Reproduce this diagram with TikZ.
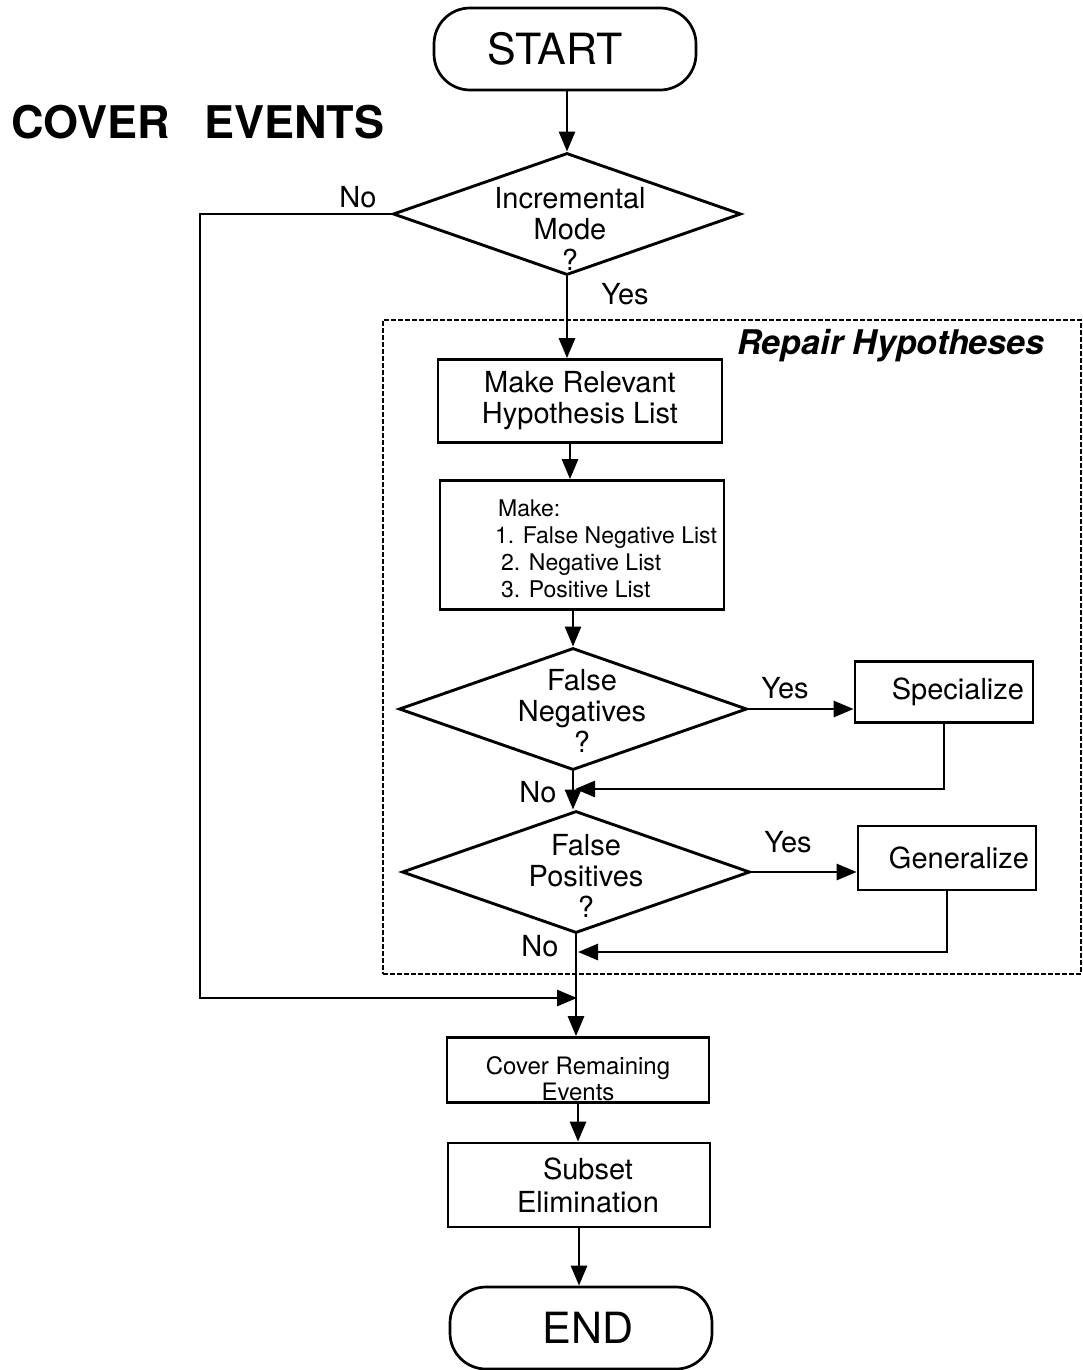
\documentclass[tikz,border=0pt]{standalone}
\usepackage{fontspec}
\setmainfont{TeX Gyre Heros}
\usetikzlibrary{shapes.geometric,arrows.meta}
\begin{document}
\begin{tikzpicture}[x=1pt,y=-1pt,
  every node/.style={inner sep=0pt},
  line/.style={line width=2.7pt},
  arr/.style={line width=2.7pt,-{Triangle[length=20pt,width=16pt]}},
  box/.style={draw,line width=2.7pt,rectangle,align=center},
  term/.style={draw,line width=2.7pt,rounded corners=36pt,minimum width=262pt,minimum height=82pt,font=\fontsize{43}{45}\selectfont},
  dec/.style={draw,line width=2.9pt,diamond,minimum width=348pt,minimum height=122pt},
  txt/.style={font=\fontsize{29}{31}\selectfont,align=center},
  small/.style={font=\fontsize{23}{27}\selectfont},
  lab/.style={font=\fontsize{29}{31}\selectfont},
]
\useasboundingbox (0,0) rectangle (1083,1370);

% dashed group
\node[draw,line width=1.8pt,dash pattern=on 5pt off 2pt,minimum width=698pt,minimum height=654pt] (rh) at (732,647) {};
\node[font=\bfseries\itshape\fontsize{34}{36}\selectfont] (rhT) at (891,346) {Repair Hypotheses};

\node[term] (start) at (565,49) {START\hspace*{20pt}};
\node[font=\bfseries\fontsize{45}{47}\selectfont] (title) at (198,122) {COVER\hspace{35pt}EVENTS};

\node[dec] (inc) at (567,214) {};
\node[txt] (incT) at (570,229) {Incremental\\Mode\\?};

\node[box,txt,minimum width=284pt,minimum height=83pt] (mr) at (580,401) {Make Relevant\\Hypothesis List};

\node[box,minimum width=284pt,minimum height=129pt] (ml) at (582,545) {};
\node[small,align=left,anchor=west] (mlT) at (495,549) {\hspace*{3pt}Make:\\1. False Negative List\\\hspace*{6pt}2. Negative List\\\hspace*{6pt}3. Positive List};

\node[dec] (fn) at (573,709) {};
\node[txt] (fnT) at (582,711) {False\\Negatives\\?};
\node[box,txt,minimum width=178pt,minimum height=61pt,text width=160pt,align=right,inner xsep=9pt] (sp) at (944,692) {Specialize};

\node[dec] (fp) at (576,872) {};
\node[txt] (fpT) at (586,876) {False\\Positives\\?};
\node[box,txt,minimum width=178pt,minimum height=64pt,text width=164pt,align=right,inner xsep=7pt] (ge) at (947,858) {Generalize};

\node[box,minimum width=262pt,minimum height=65pt] (cr) at (578,1070) {};
\node[align=center,font=\fontsize{24}{26}\selectfont] (crT) at (578,1079) {Cover Remaining\\Events};

\node[box,minimum width=262pt,minimum height=84pt,font=\fontsize{29}{33}\selectfont] (se) at (579,1185) {\hspace*{18pt}Subset\\\hspace*{18pt}Elimination};

\node[term] (end) at (581,1328) {\hspace*{14pt}END};

% labels
\node[lab] (no1) at (358,197) {No};
\node[lab] (yes1) at (625,294) {Yes};
\node[lab] (yes2) at (785,688) {Yes};
\node[lab] (no2) at (538,792) {No};
\node[lab] (yes3) at (788,842) {Yes};
\node[lab] (no3) at (540,946) {No};

% coordinates
\coordinate (m1) at (575,789);
\coordinate (m2) at (578,952);
\coordinate (c1) at (200,998);
\coordinate (j) at (577,998);

% connectors
\draw[arr] (inc.north |- start.south) -- (inc.north);
\draw[arr] (inc.south) -- (inc.south |- mr.north);
\draw[arr] ([xshift=-10pt]mr.south) -- ([xshift=-10pt]mr.south |- ml.north);
\draw[arr] (fn.north |- ml.south) -- (fn.north);
\draw[arr] (fn.east) -- (fn.east -| sp.west);
\draw[arr] (sp.south) |- (m1);
\draw[arr] (fn.south) -- (fn.south |- fp.north);
\draw[arr] (fp.east) -- (fp.east -| ge.west);
\draw[arr] (ge.south) |- (m2);
\draw[arr] (fp.south) -- (fp.south |- cr.north);
\draw[arr] (inc.west) -| (c1) -- (j);
\draw[arr] (cr.south) -- (cr.south |- se.north);
\draw[arr] (se.south) -- (se.south |- end.north);
\end{tikzpicture}
\end{document}
